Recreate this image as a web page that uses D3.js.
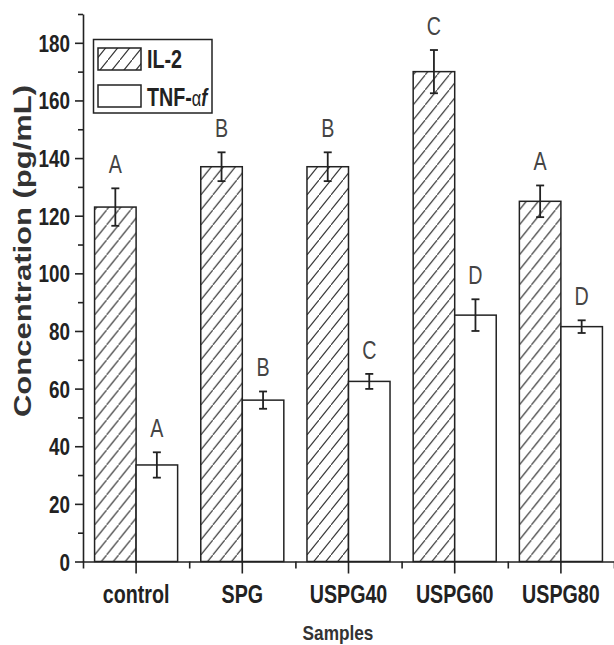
<!DOCTYPE html>
<html>
<head>
<meta charset="utf-8">
<script src="https://cdn.jsdelivr.net/npm/d3@7"></script>
<style>
  html, body { margin: 0; padding: 0; background: #fff; }
  svg { display: block; }
</style>
</head>
<body>
<svg id="chart" width="614" height="645"></svg>
<script>
// Cytokine concentrations per sample group (mean ± SD, pg/mL)
const categories = ["control", "SPG", "USPG40", "USPG60", "USPG80"];
const seriesNames = ["IL-2", "TNF-α"];
const il2Values = [123, 137, 137, 170, 125];
const il2Errors = [6.5, 5, 5, 7.5, 5.5];
const tnfValues = [33.5, 56, 62.5, 85.5, 81.5];
const tnfErrors = [4.4, 3, 2.6, 5.5, 2.2];
const il2Groups = ["A", "B", "B", "C", "A"];
const tnfGroups = ["A", "B", "C", "D", "D"];
const yTicks = [0, 20, 40, 60, 80, 100, 120, 140, 160, 180];
const yMinorTicks = [10, 30, 50, 70, 90, 110, 130, 150, 170, 190];

const INK = "#222";
const svg = d3.select("#chart");
const plot = { left: 83, right: 614, top: 14, bottom: 561.5 };

// Condensed sans: use the narrow face when present, else squeeze the regular one
function hasFont(name) {
  const t = svg.append("text").attr("font-size", 40).text("mmmwwwiiilll0123ABC");
  t.attr("font-family", "monospace");
  const a = t.node().getComputedTextLength();
  t.attr("font-family", `'${name}', monospace`);
  const b = t.node().getComputedTextLength();
  t.remove();
  return Math.abs(a - b) > 0.5;
}
const NARROW = hasFont("Liberation Sans Narrow");
const SQUEEZE = 0.82;

// Places condensed text at (x, y); sy stretches glyphs vertically a little
function condensed(sel, x, y, sy = 1) {
  sel.attr("x", null).attr("y", null);
  if (NARROW) {
    sel.attr("font-family", "'Liberation Sans Narrow', 'Arial Narrow', sans-serif")
       .attr("transform", `translate(${x},${y}) scale(1,${sy})`);
  } else {
    sel.attr("font-family", "'Liberation Sans', Arial, sans-serif")
       .attr("transform", `translate(${x},${y}) scale(${SQUEEZE},${sy})`);
  }
  return sel;
}

// Scales
const y = d3.scaleLinear().domain([0, 190]).range([plot.bottom, plot.top]);
const x = d3.scaleBand().domain(categories)
  .range([plot.left, plot.right])
  .paddingInner(0.218).paddingOuter(0.109);
const xs = d3.scaleBand().domain(seriesNames).range([0, x.bandwidth()]);
const bounds = d3.scalePoint().domain(d3.range(categories.length + 1))
  .range([plot.left, plot.right]);

// Diagonal hatch for IL-2
const defs = svg.append("defs");
const pat = defs.append("pattern").attr("id", "hatch")
  .attr("patternUnits", "userSpaceOnUse").attr("width", 12).attr("height", 15);
pat.append("rect").attr("width", 12).attr("height", 15).attr("fill", "#fff");
pat.append("path").attr("d", "M-3,18.75 L15,-3.75")
  .attr("stroke", "#333").attr("stroke-width", 1.1);

const rows = categories.map((c, i) => ({
  cat: c,
  bars: [
    { key: "IL-2", value: il2Values[i], err: il2Errors[i], group: il2Groups[i], fill: "url(#hatch)" },
    { key: "TNF-α", value: tnfValues[i], err: tnfErrors[i], group: tnfGroups[i], fill: "#fff" }
  ]
}));

// Bars
const gBars = svg.append("g");
const groups = gBars.selectAll("g").data(rows).join("g")
  .attr("transform", d => `translate(${x(d.cat)},0)`);

groups.selectAll("rect").data(d => d.bars).join("rect")
  .attr("x", d => xs(d.key))
  .attr("y", d => y(d.value))
  .attr("width", xs.bandwidth())
  .attr("height", d => y(0) - y(d.value))
  .attr("fill", d => d.fill)
  .attr("stroke", INK).attr("stroke-width", 1.5);

// Error bars
const eb = groups.selectAll("g.err").data(d => d.bars).join("g").attr("class", "err")
  .attr("transform", d => `translate(${xs(d.key) + xs.bandwidth() / 2},0)`);
eb.append("line")
  .attr("y1", d => y(d.value - d.err)).attr("y2", d => y(d.value + d.err))
  .attr("stroke", INK).attr("stroke-width", 1.8);
eb.append("line").attr("x1", -4).attr("x2", 4)
  .attr("y1", d => y(d.value + d.err)).attr("y2", d => y(d.value + d.err))
  .attr("stroke", INK).attr("stroke-width", 1.8);
eb.append("line").attr("x1", -4).attr("x2", 4)
  .attr("y1", d => y(d.value - d.err)).attr("y2", d => y(d.value - d.err))
  .attr("stroke", INK).attr("stroke-width", 1.8);

// Significance letters
eb.append("text")
  .attr("text-anchor", "middle")
  .attr("font-size", 24).attr("fill", "#444")
  .text(d => d.group)
  .each(function(d) { condensed(d3.select(this), 0, y(d.value + d.err) - 15, 1.1); });

// Y axis
const gy = svg.append("g").attr("transform", `translate(${plot.left},0)`);
gy.call(d3.axisLeft(y).tickValues(yTicks).tickSize(8).tickSizeOuter(0).tickPadding(5));
gy.append("g").call(d3.axisLeft(y).tickValues(yMinorTicks).tickSize(5).tickFormat(""))
  .select(".domain").remove();
gy.selectAll("path, line").attr("stroke", INK).attr("stroke-width", 1.6);
gy.selectAll(".tick text")
  .attr("fill", INK).attr("font-size", 23).attr("font-weight", "bold")
  .each(function() {
    const t = d3.select(this);
    t.attr("dy", null);
    condensed(t, -13, 8.5, 1.08);
  });

// X axis
const gx = svg.append("g").attr("transform", `translate(0,${plot.bottom})`);
gx.call(d3.axisBottom(x).tickSize(12).tickSizeOuter(0));
gx.append("g").call(d3.axisBottom(bounds).tickSize(7).tickFormat(""))
  .select(".domain").remove();
gx.selectAll("path, line").attr("stroke", INK).attr("stroke-width", 1.6);
gx.selectAll(".tick text")
  .attr("fill", INK).attr("font-size", 24).attr("font-weight", "bold")
  .each(function() {
    const t = d3.select(this);
    t.attr("dy", null);
    condensed(t, 0, 41.5, 1.05);
  });

// Axis titles
svg.append("text")
  .attr("transform", "translate(31,251) rotate(-90)")
  .attr("text-anchor", "middle")
  .attr("font-family", "'Liberation Sans', Arial, sans-serif")
  .attr("font-weight", "bold").attr("font-size", 24).attr("fill", "#333")
  .attr("textLength", 332).attr("lengthAdjust", "spacingAndGlyphs")
  .text("Concentration (pg/mL)");

svg.append("text")
  .attr("text-anchor", "middle")
  .attr("font-weight", "bold").attr("font-size", 21).attr("fill", "#333")
  .text("Samples")
  .call(s => condensed(s, 338, 640));

// Legend
const lg = svg.append("g");
lg.append("rect").attr("x", 93.5).attr("y", 39.5).attr("width", 118.5).attr("height", 73.5)
  .attr("fill", "#fff").attr("stroke", INK).attr("stroke-width", 1.5);
const legendItems = [
  { name: seriesNames[0], fill: "url(#hatch)", top: 48, base: 68 },
  { name: seriesNames[1], fill: "#fff", top: 85, base: 106 }
];
legendItems.forEach(it => {
  lg.append("rect").attr("x", 98).attr("y", it.top).attr("width", 43).attr("height", 22)
    .attr("fill", it.fill).attr("stroke", INK).attr("stroke-width", 1.5);
});
lg.append("text").attr("font-size", 24).attr("font-weight", "bold").attr("fill", INK)
  .text(legendItems[0].name)
  .call(s => condensed(s, 147, legendItems[0].base, 1.08));
const tnfLabel = lg.append("text").attr("font-size", 24).attr("font-weight", "bold").attr("fill", INK);
tnfLabel.append("tspan").text("TNF-");
tnfLabel.append("tspan").attr("font-weight", "normal").attr("font-size", 20).text("α");
tnfLabel.append("tspan").attr("font-style", "italic").attr("font-size", 22).text("f");
condensed(tnfLabel, 147, legendItems[1].base, 1.08);
</script>
</body>
</html>
